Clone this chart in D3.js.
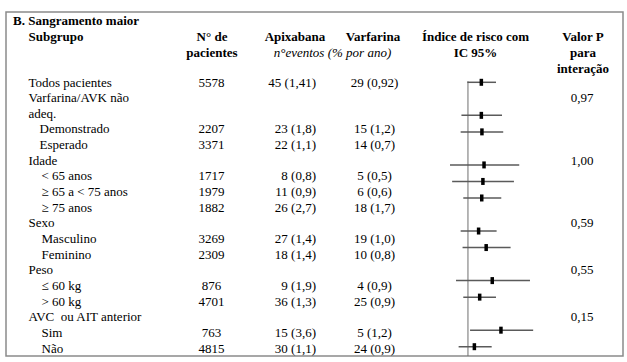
<!DOCTYPE html>
<html>
<head>
<meta charset="utf-8">
<script src="https://cdn.jsdelivr.net/npm/d3@7"></script>
<style>
  body { margin: 0; background: #fff; }
  svg text { font-size: 13px; fill: #000; white-space: pre; }
  .bold { font-weight: bold; }
</style>
</head>
<body>
<div class="chart"></div>
<script>
const width = 627;
const height = 362;

// subgroup rows (the second label wraps onto two lines in the table)
const labels = ["Todos pacientes", "Varfarina/AVK não|adeq.", "Demonstrado", "Esperado", "Idade",
  "< 65 anos", "≥ 65 a < 75 anos", "≥ 75 anos", "Sexo", "Masculino", "Feminino", "Peso",
  "≤ 60 kg", "> 60 kg", "AVC  ou AIT anterior", "Sim", "Não"];
const levels = [0, 0, 1, 1, 0, 2, 2, 2, 0, 2, 2, 0, 2, 2, 0, 2, 2];
const patients = ["5578", "", "2207", "3371", "", "1717", "1979", "1882", "", "3269", "2309", "",
  "876", "4701", "", "763", "4815"];
const apixaban = ["45 (1,41)", "", "23 (1,8)", "22 (1,1)", "", "8 (0,8)", "11 (0,9)", "26 (2,7)", "",
  "27 (1,4)", "18 (1,4)", "", "9 (1,9)", "36 (1,3)", "", "15 (3,6)", "30 (1,1)"];
const warfarin = ["29 (0,92)", "", "15 (1,2)", "14 (0,7)", "", "5 (0,5)", "6 (0,6)", "18 (1,7)", "",
  "19 (1,0)", "10 (0,8)", "", "4 (0,9)", "25 (0,9)", "", "5 (1,2)", "24 (0,9)"];
const hr     = [1.54, null, 1.54, 1.57, null, 1.68, 1.62, 1.56, null, 1.41, 1.80, null, 2.19, 1.46, null, 2.90, 1.23];
const hrLow  = [0.98, null, 0.81, 0.79, null, 0.56, 0.60, 0.86, null, 0.79, 0.84, null, 0.68, 0.86, null, 1.07, 0.74];
const hrHigh = [2.47, null, 3.00, 3.12, null, 5.23, 4.41, 2.93, null, 2.52, 3.96, null, 7.40, 2.47, null, 8.20, 2.15];
const pValues = ["", "0,97", "", "", "1,00", "", "", "", "0,59", "", "", "0,55", "", "", "0,15", "", ""];

const svg = d3.select(".chart").append("svg")
  .attr("width", width).attr("height", height)
  .attr("font-family", "'Liberation Serif', 'Times New Roman', Times, serif");

// frame
svg.append("rect")
  .attr("x", 6).attr("y", 12)
  .attr("width", 617).attr("height", 344)
  .attr("fill", "none").attr("stroke", "#8a8a8a").attr("stroke-width", 1.5);

// header
const header = svg.append("g");
header.append("text").attr("class", "bold").attr("x", 13).attr("y", 25).text("B. Sangramento maior");
header.append("text").attr("class", "bold").attr("x", 28.5).attr("y", 40.5).text("Subgrupo");

const headCols = [
  { x: 212, lines: ["N° de", "pacientes"] },
  { x: 295, lines: ["Apixabana"] },
  { x: 373, lines: ["Varfarina"] },
  { x: 475.5, lines: ["Índice de risco com", "IC 95%"] },
  { x: 583, lines: ["Valor P", "para", "interação"] }
];
headCols.forEach(c => {
  c.lines.forEach((t, i) => {
    header.append("text").attr("class", "bold")
      .attr("x", c.x).attr("y", 40.5 + i * 16.2)
      .attr("text-anchor", "middle").text(t);
  });
});
header.append("text")
  .attr("x", 332.5).attr("y", 56.7)
  .attr("text-anchor", "middle")
  .style("font-style", "italic")
  .text("n°eventos (% por ano)");

// table lines: wrapped labels push the following rows down
const lines = [];
labels.forEach((l, i) => l.split("|").forEach((t, j) => lines.push({ row: i, sub: j, text: t })));
const lineOf = labels.map((l, i) => lines.findIndex(d => d.row === i));

const yText = d3.scaleLinear().domain([0, lines.length - 1]).range([82, 348.3]);
const yPlot = d3.scaleLinear().domain([0, labels.length - 1]).range([82.3, 346.7]);
const x = d3.scaleLog().domain([0.25, 8]).range([425, 532.4]);
const indentX = [28.5, 39.5, 41.5];

const table = svg.append("g");
table.selectAll(".label")
  .data(lines)
  .enter()
    .append("text")
    .attr("class", "label")
    .attr("x", d => indentX[d.sub > 0 ? 0 : levels[d.row]])
    .attr("y", (d, i) => yText(i) + 4.5)
    .text(d => d.text);

const column = (values, xPos, anchor) => {
  table.selectAll(null)
    .data(values.map((v, i) => ({ v, i })).filter(d => d.v !== ""))
    .enter()
      .append("text")
      .attr("x", xPos)
      .attr("y", d => yText(lineOf[d.i]) + 4.5)
      .attr("text-anchor", anchor)
      .text(d => d.v);
};
column(patients, 211.5, "middle");
column(apixaban, 316, "end");
column(warfarin, 374.5, "middle");
column(pValues, 582, "middle");

// forest plot
const plot = svg.append("g");
plot.append("line")
  .attr("x1", x(1)).attr("x2", x(1))
  .attr("y1", yPlot(0) - 1).attr("y2", 356)
  .attr("stroke", "#6e6e6e").attr("stroke-width", 1);

const est = hr.map((h, i) => ({ h, lo: hrLow[i], hi: hrHigh[i], i })).filter(d => d.h !== null);

plot.selectAll(".ci")
  .data(est)
  .enter()
    .append("line")
    .attr("class", "ci")
    .attr("x1", d => x(d.lo)).attr("x2", d => x(d.hi))
    .attr("y1", d => yPlot(d.i)).attr("y2", d => yPlot(d.i))
    .attr("stroke", "#5a5a5a").attr("stroke-width", 1.5);

plot.selectAll(".pt")
  .data(est)
  .enter()
    .append("rect")
    .attr("class", "pt")
    .attr("x", d => x(d.h) - 1.75)
    .attr("y", d => yPlot(d.i) - 3.5)
    .attr("width", 3.5).attr("height", 7)
    .attr("fill", "#000");
</script>
</body>
</html>
